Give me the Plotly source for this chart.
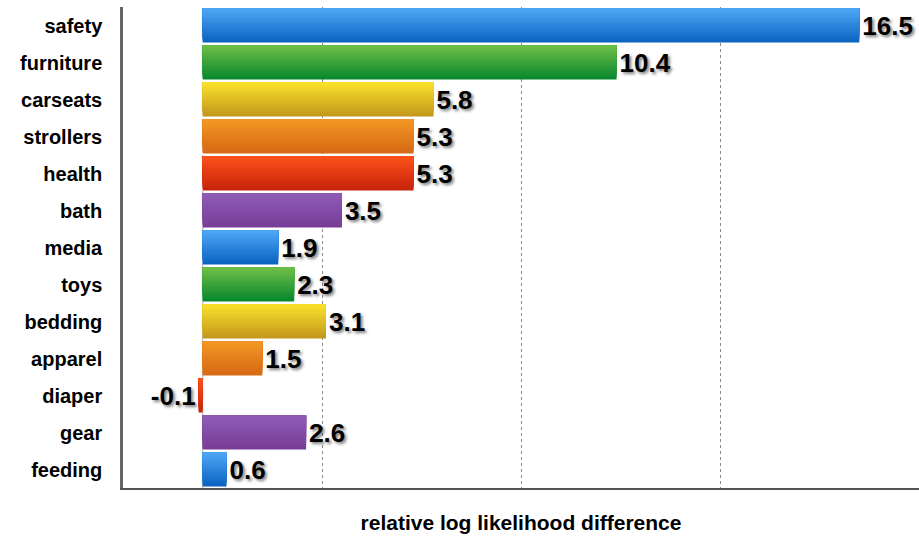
import plotly.graph_objects as go

categories = ["safety", "furniture", "carseats", "strollers", "health", "bath", "media",
              "toys", "bedding", "apparel", "diaper", "gear", "feeding"]
values = [16.5, 10.4, 5.8, 5.3, 5.3, 3.5, 1.9, 2.3, 3.1, 1.5, -0.1, 2.6, 0.6]
labels = ["16.5", "10.4", "5.8", "5.3", "5.3", "3.5", "1.9", "2.3", "3.1", "1.5", "-0.1", "2.6", "0.6"]

# gradient palette (top colour, bottom colour), cycling
palette = [
    ((80, 168, 246), (8, 98, 192)),     # blue
    ((112, 192, 72), (5, 133, 45)),     # green
    ((250, 226, 45), (194, 150, 28)),   # yellow
    ((242, 152, 36), (214, 104, 20)),   # orange
    ((252, 82, 26), (198, 34, 10)),     # red
    ((142, 92, 182), (120, 60, 150)),   # purple
]

W = 0.92
N = 16
fig = go.Figure()

def mix(a, b, t):
    return "rgb(%d,%d,%d)" % tuple(round(a[k] + (b[k] - a[k]) * t) for k in range(3))

for i in range(N):
    t = 1 - (i + 0.5) / N  # i=0 bottom (dark)
    cols = [mix(palette[j % 6][0], palette[j % 6][1], t) for j in range(len(categories))]
    fig.add_trace(go.Bar(
        x=values, y=categories, orientation="h",
        width=W - i * W / N, offset=-W / 2 + i * W / N,
        marker=dict(color=cols, line=dict(width=0)),
        hoverinfo="skip", showlegend=False,
    ))

fig.add_trace(go.Bar(
    x=values, y=categories, orientation="h", width=W,
    marker=dict(color="rgba(0,0,0,0)", line=dict(width=0)),
    text=labels, textposition="outside", cliponaxis=False,
    textfont=dict(family="Liberation Sans, Arial, sans-serif", size=26, color="black",
                  weight="bold", shadow="2px 2px 3px rgba(0,0,0,0.5)"),
    showlegend=False, hoverinfo="x+y",
))

fig.add_shape(type="line", xref="x", yref="paper", x0=0, x1=0, y0=0, y1=1,
              line=dict(color="#c8c8c8", width=1.5, dash="dash"), layer="below")

fig.update_layout(
    width=919, height=537,
    margin=dict(l=123, r=0, t=7, b=49),
    paper_bgcolor="white", plot_bgcolor="white",
    barmode="overlay",
    font=dict(family="Liberation Sans, Arial, sans-serif", color="black"),
    xaxis=dict(range=[-2, 18], tick0=-2, dtick=5, showticklabels=False, ticks="",
               showgrid=True, gridcolor="#8a8a8a", griddash="dot", gridwidth=1,
               zeroline=False, showline=True, linecolor="#555555", linewidth=1.5,
               title=dict(text="<b>relative log likelihood difference</b>",
                          font=dict(size=21, color="black"), standoff=27),
               fixedrange=True),
    yaxis=dict(categoryorder="array", categoryarray=list(reversed(categories)),
               range=[-0.5, 12.5], showgrid=False, zeroline=False,
               showline=True, linecolor="#666666", linewidth=2.5, ticks="",
               ticklabelstandoff=14,
               tickfont=dict(size=20, color="black", weight="bold")),
)

fig.write_html("out.html")
